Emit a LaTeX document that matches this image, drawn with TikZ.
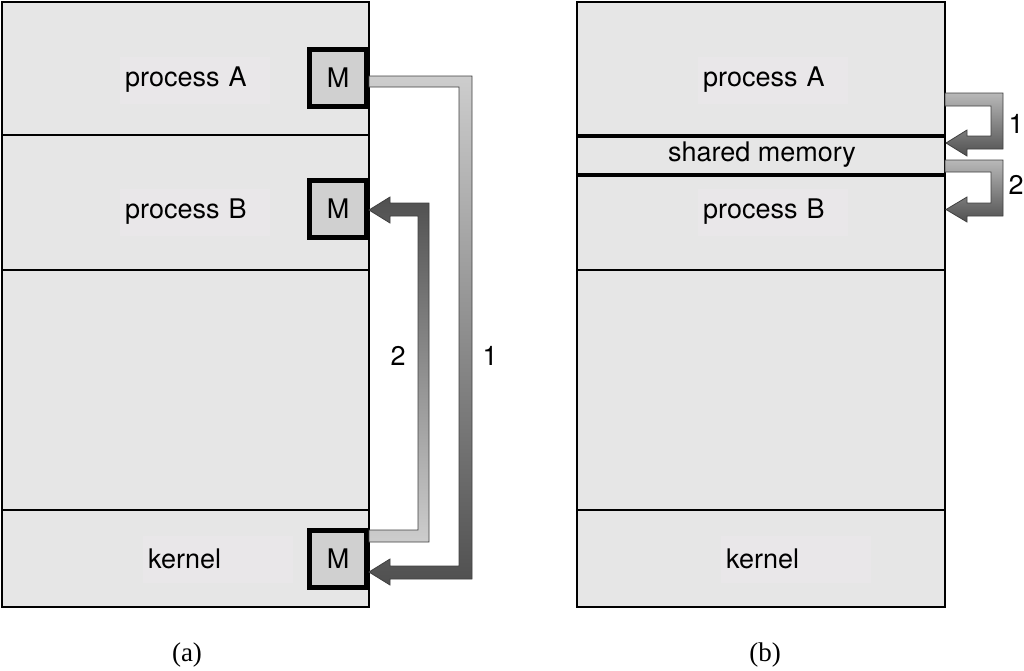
\documentclass[tikz,border=0pt]{standalone}
\usepackage{fontspec}
\setsansfont{TeX Gyre Heros}
\newfontfamily\capfont{Liberation Serif}
\usepackage{xcolor}
\usepackage{tikz}
\definecolor{panelgray}{RGB}{230,230,230}
\definecolor{labelgray}{RGB}{233,231,233}
\definecolor{boxgray}{RGB}{208,208,208}
\definecolor{arrowlight}{RGB}{205,205,205}
\definecolor{arrowdark}{RGB}{80,80,80}

\tikzset{
    panel/.style={draw=black, line width=1.6pt, fill=panelgray},
    divider/.style={line width=1.4pt},
    thickdivider/.style={line width=4.5pt},
    proclabel/.style={fill=labelgray, anchor=west, text width=140pt, align=left,
        inner xsep=5pt, minimum height=47pt,
        font=\sffamily\fontsize{27}{30}\selectfont},
    msgbox/.style={draw=black, line width=5.5pt, fill=boxgray, minimum size=57pt,
        inner sep=0pt, font=\sffamily\fontsize{27}{30}\selectfont},
    steplabel/.style={font=\sffamily\fontsize{27}{30}\selectfont},
    caption/.style={font=\capfont\fontsize{27}{30}\selectfont},
    fatarrow/.style={draw=black!75, line width=0.8pt},
}

\begin{document}
\begin{tikzpicture}[x=1pt, y=-1pt]

\useasboundingbox (0,0) rectangle (1024,670);

% (a) message passing
\draw[panel] (2,2) rectangle (369,607);
\draw[divider] (2,135) -- (369,135);
\draw[divider] (2,270) -- (369,270);
\draw[divider] (2,510) -- (369,510);

\node[proclabel] (procAa) at (120,80) {process A};
\node[proclabel] (procBa) at (120,212) {process B};
\node[proclabel] (kernela) at (143,559) {kernel};

\node[msgbox] (mA) at (338,78) {M};
\node[msgbox] (mB) at (338,209) {M};
\node[msgbox] (mK) at (338,559) {M};

% 1: process A -> kernel
\shade[fatarrow, top color=arrowlight, bottom color=arrowdark]
    (369,76) -- (472,76) -- (472,579) -- (390,579) -- (390,585)
    -- (369,572) -- (390,559) -- (390,566) -- (459,566) -- (459,87)
    -- (369,87) -- cycle;
% 2: kernel -> process B
\shade[fatarrow, top color=arrowdark, bottom color=arrowlight]
    (369,542) -- (429,542) -- (429,203) -- (390,203) -- (390,197)
    -- (369,210) -- (390,223) -- (390,216) -- (418,216) -- (418,530)
    -- (369,530) -- cycle;

\node[steplabel] (stepTwoa) at (398,356) {2};
\node[steplabel] (stepOnea) at (490,356) {1};

\node[caption] (capa) at (187,655) {(a)};

% (b) shared memory
\draw[panel] (577,2) rectangle (945,607);
\draw[thickdivider] (577,136) -- (945,136);
\draw[thickdivider] (577,175) -- (945,175);
\draw[divider] (577,270) -- (945,270);
\draw[divider] (577,510) -- (945,510);

\node[proclabel] (procAb) at (698,80) {process A};
\node[steplabel] (shm) at (762,155) {shared memory};
\node[proclabel] (procBb) at (698,212) {process B};
\node[proclabel] (kernelb) at (721,559) {kernel};

\shade[fatarrow, top color=arrowlight!90!black, bottom color=arrowdark]
    (945,93) -- (1003,93) -- (1003,149) -- (967,149) -- (967,156)
    -- (946,143) -- (967,130) -- (967,136) -- (991,136) -- (991,106)
    -- (945,106) -- cycle;
\shade[fatarrow, top color=arrowlight!90!black, bottom color=arrowdark]
    (945,160) -- (1003,160) -- (1003,216) -- (967,216) -- (967,222)
    -- (946,209.5) -- (967,197) -- (967,203) -- (991,203) -- (991,172)
    -- (945,172) -- cycle;

\node[steplabel] (stepOneb) at (1016,124) {1};
\node[steplabel] (stepTwob) at (1016,185) {2};

\node[caption] (capb) at (765,655) {(b)};

\end{tikzpicture}
\end{document}
